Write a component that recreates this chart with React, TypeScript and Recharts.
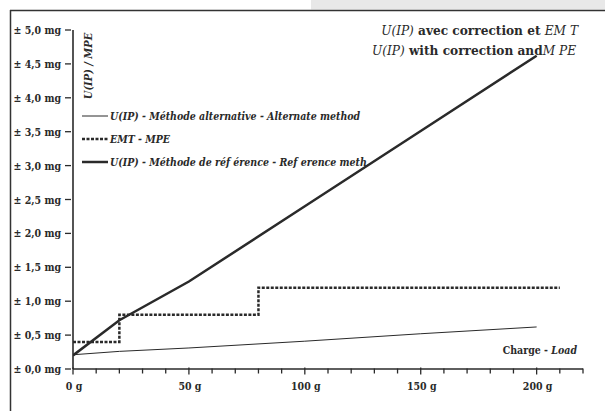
import { LineChart, Line, XAxis, YAxis } from "recharts";

// load (g) and uncertainty / MPE (mg)
const altLoad = [0, 20, 50, 100, 150, 200];
const altU = [0.21, 0.26, 0.31, 0.41, 0.52, 0.62];

const mpeLoad = [0, 20, 80, 210];
const mpeVal = [0.4, 0.8, 1.2, 1.2];

const refLoad = [0, 20, 50, 100, 150, 200];
const refU = [0.2, 0.72, 1.29, 2.4, 3.51, 4.62];

const xTicks = [0, 10, 20, 30, 40, 50, 60, 70, 80, 90, 100, 110, 120, 130, 140, 150, 160, 170, 180, 190, 200, 210, 220];
const xLabels = [0, 50, 100, 150, 200];
const yTicks = [0, 0.5, 1, 1.5, 2, 2.5, 3, 3.5, 4, 4.5, 5];

const legendItems = [
  { label: "U(IP) - Méthode alternative - Alternate method", width: 1, dash: undefined },
  { label: "EMT - MPE", width: 2.5, dash: "3 1.5" },
  { label: "U(IP) - Méthode de réf érence - Ref erence meth", width: 2.5, dash: undefined },
];

const altData = altLoad.map((x, i) => ({ x, y: altU[i] }));
const mpeData = mpeLoad.map((x, i) => ({ x, y: mpeVal[i] }));
const refData = refLoad.map((x, i) => ({ x, y: refU[i] }));

const INK = "#2a2a2a";
const serif = { fontFamily: "'DejaVu Serif Condensed', 'DejaVu Serif', serif", fontStretch: "condensed" };

function XTick({ x, y, payload }: any) {
  const v = payload.value;
  const major = xLabels.includes(v);
  const r = major ? 3.5 : 2.5;
  return (
    <g>
      <line x1={x} x2={x} y1={y - r} y2={y + r} stroke={INK} strokeWidth={1.3} />
      {major && (
        <text x={x + 1} y={y + 19} textAnchor="middle" style={serif} fontWeight="bold" fontSize={10.5} fill={INK}>
          {v} g
        </text>
      )}
    </g>
  );
}

function YTick({ x, y, payload }: any) {
  const label = "± " + payload.value.toFixed(1).replace(".", ",") + " mg";
  return (
    <g>
      <line x1={x - 6} x2={x} y1={y} y2={y} stroke={INK} strokeWidth={1.3} />
      <text x={x - 10} y={y + 4} textAnchor="end" style={serif} fontWeight="bold" fontSize={10.5} fill={INK}>
        {label}
      </text>
    </g>
  );
}

export default function App() {
  return (
    <div style={{ position: "absolute", left: 0, top: 0, width: 605, height: 411, background: "#fff" }}>
      <svg width={605} height={411} style={{ position: "absolute", left: 0, top: 0 }}>
        <rect x={311} y={0} width={294} height={9.5} fill="#e8e8e8" />
        <line x1={10} x2={605} y1={10.5} y2={10.5} stroke="#333" strokeWidth={1.5} />
        <line x1={10.5} x2={10.5} y1={10} y2={411} stroke="#333" strokeWidth={1.5} />
      </svg>
      <div style={{ position: "absolute", left: 0, top: 0 }}>
        <LineChart width={605} height={411} margin={{ top: 30, right: 22, left: 0, bottom: 0 }}>
          <XAxis
            type="number"
            dataKey="x"
            domain={[0, 220]}
            ticks={xTicks}
            interval={0}
            height={42}
            tickSize={0}
            tickLine={false}
            axisLine={{ stroke: INK, strokeWidth: 1.6 }}
            tick={<XTick />}
            allowDataOverflow
          />
          <YAxis
            type="number"
            dataKey="y"
            domain={[0, 5]}
            ticks={yTicks}
            interval={0}
            width={73}
            tickSize={0}
            tickLine={false}
            axisLine={{ stroke: INK, strokeWidth: 1.6 }}
            tick={<YTick />}
            allowDataOverflow
          />
          <Line data={altData} dataKey="y" type="linear" stroke={INK} strokeWidth={1} dot={false} isAnimationActive={false} />
          <Line
            data={mpeData}
            dataKey="y"
            type="stepAfter"
            stroke={INK}
            strokeWidth={2.5}
            strokeDasharray="3 1.5"
            dot={false}
            isAnimationActive={false}
          />
          <Line data={refData} dataKey="y" type="linear" stroke={INK} strokeWidth={2.5} dot={false} isAnimationActive={false} />
        </LineChart>
      </div>
      <svg width={605} height={411} style={{ position: "absolute", left: 0, top: 0, pointerEvents: "none" }}>
        {legendItems.map((it, i) => {
          const cy = 116 + i * 23;
          return (
            <g key={it.label}>
              <line x1={82} x2={108} y1={cy} y2={cy} stroke={INK} strokeWidth={it.width} strokeDasharray={it.dash} />
              <text x={110} y={cy + 4} style={serif} fontWeight="bold" fontStyle="italic" fontSize={10.5} fill={INK}>
                {it.label}
              </text>
            </g>
          );
        })}
        <text
          transform="translate(92,66) rotate(-90)"
          textAnchor="middle"
          style={serif}
          fontWeight="bold"
          fontStyle="italic"
          fontSize={11}
          fill={INK}
        >
          U(IP) / MPE
        </text>
        <text x={578} y={35} textAnchor="end" style={serif} fontSize={13.5} fill={INK}>
          <tspan fontStyle="italic">U(IP)</tspan>
          <tspan fontWeight="bold"> avec correction  et </tspan>
          <tspan fontStyle="italic">EM T</tspan>
        </text>
        <text x={576} y={55} textAnchor="end" style={serif} fontSize={13.5} fill={INK}>
          <tspan fontStyle="italic">U(IP)</tspan>
          <tspan fontWeight="bold"> with correction and</tspan>
          <tspan fontStyle="italic">M PE</tspan>
        </text>
        <text x={577} y={354} textAnchor="end" style={serif} fontWeight="bold" fontSize={10.5} fill={INK}>
          Charge - <tspan fontStyle="italic">Load</tspan>
        </text>
      </svg>
    </div>
  );
}
